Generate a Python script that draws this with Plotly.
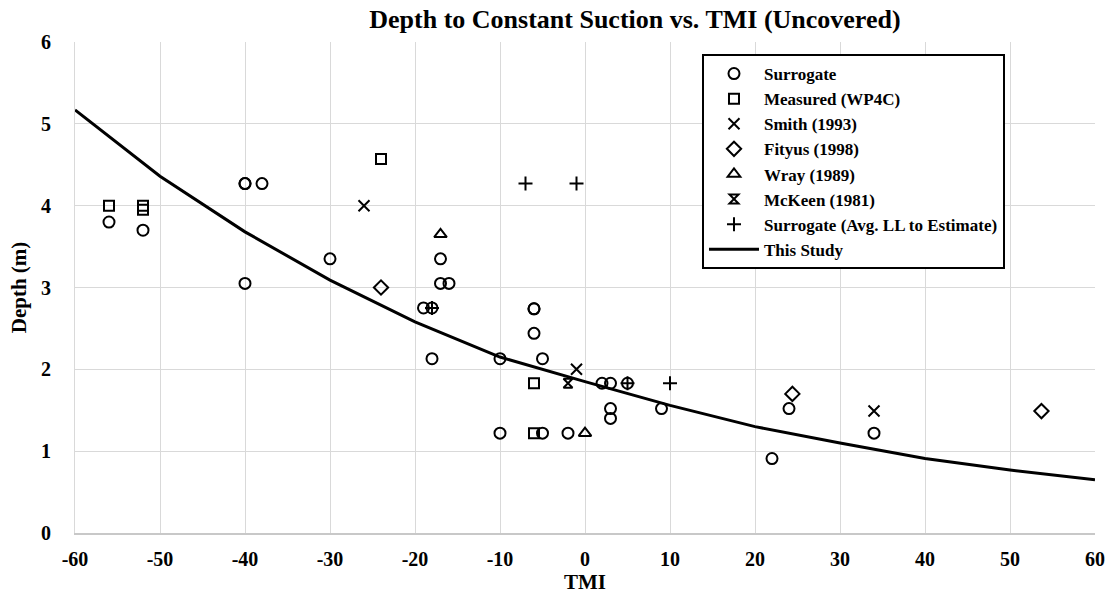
import plotly.graph_objects as go

# ---- data ----
surr_x = [-56, -52, -40, -40, -38, -40, -30, -17, -17, -16, -19, -18, -18, -10, -6, -6, -6, -5,
          2, 3, 5, 3, 3, 9, -10, -5, -2, 22, 24, 34]
surr_y = [3.80, 3.70, 4.27, 4.27, 4.27, 3.05, 3.35, 3.35, 3.05, 3.05, 2.75, 2.75, 2.13, 2.13, 2.74, 2.74, 2.44, 2.13,
          1.83, 1.83, 1.83, 1.52, 1.40, 1.52, 1.22, 1.22, 1.22, 0.91, 1.52, 1.22]

meas_x = [-56, -52, -52, -24, -24, -6, -6]
meas_y = [4.00, 4.00, 3.95, 4.57, 4.57, 1.83, 1.22]

smith_x = [-26, -1, 34]
smith_y = [4.00, 2.00, 1.49]

fityus_x = [-24, 24.4, 53.7]
fityus_y = [3.00, 1.70, 1.49]

wray_x = [-17, 0]
wray_y = [3.65, 1.22]

mckeen_x = [-2]
mckeen_y = [1.83]

avgll_x = [-7, -1, -18, 5, 10]
avgll_y = [4.27, 4.27, 2.75, 1.83, 1.83]

study_x = [-60, -50, -40, -30, -20, -10, 0, 10, 20, 30, 40, 50, 60]
study_y = [5.17, 4.36, 3.68, 3.09, 2.58, 2.15, 1.85, 1.56, 1.30, 1.10, 0.91, 0.77, 0.65]

x_ticks = [-60, -50, -40, -30, -20, -10, 0, 10, 20, 30, 40, 50, 60]
y_ticks = [0, 1, 2, 3, 4, 5, 6]

FONT = "Liberation Serif"

def mk(name, xs, ys, symbol, size=10):
    return go.Scatter(
        x=xs, y=ys, mode="markers", name=name,
        marker=dict(symbol=symbol, size=size, color="black",
                    line=dict(color="black", width=2)),
    )

fig = go.Figure()
fig.add_trace(mk("Surrogate", surr_x, surr_y, "circle-open", 11))
fig.add_trace(mk("Measured (WP4C)", meas_x, meas_y, "square-open", 10))
fig.add_trace(mk("Smith (1993)", smith_x, smith_y, "x-thin-open", 11))
fig.add_trace(mk("Fityus (1998)", fityus_x, fityus_y, "diamond-open", 11))
fig.add_trace(mk("Wray (1989)", wray_x, wray_y, "triangle-up-open", 11))
fig.add_trace(mk("McKeen (1981)", mckeen_x, mckeen_y, "hourglass-open", 9))
fig.add_trace(mk("Surrogate (Avg. LL to Estimate)", avgll_x, avgll_y, "cross-thin-open", 10))
fig.add_trace(go.Scatter(x=study_x, y=study_y, mode="lines", name="This Study",
                         line=dict(color="black", width=3)))

fig.update_layout(
    width=1112, height=598, autosize=False,
    margin=dict(l=75, r=17, t=42, b=65),
    paper_bgcolor="white", plot_bgcolor="white",
    font=dict(family=FONT, size=20, color="black", weight="bold"),
    title=dict(text="Depth to Constant Suction vs. TMI (Uncovered)",
               font=dict(family=FONT, size=26, color="black", weight="bold"),
               x=0.571, xref="container", xanchor="center",
               y=0.968, yref="container", yanchor="middle"),
    legend=dict(x=0.6147, y=0.9756, xanchor="left", yanchor="top",
                bgcolor="white", bordercolor="black", borderwidth=2,
                font=dict(family=FONT, size=17, color="black", weight="bold"),
                tracegroupgap=0, itemwidth=50),
    showlegend=True,
)
fig.update_xaxes(
    range=[-60, 60], tickvals=x_ticks, ticktext=[str(v) for v in x_ticks],
    showgrid=True, gridcolor="#d9d9d9", gridwidth=1,
    showline=True, linecolor="#c8c8c8", linewidth=1.5,
    zeroline=False, ticks="", ticklabelstandoff=7, automargin=False,
    tickfont=dict(family=FONT, size=20, color="black", weight="bold"),
    title=dict(text="TMI", standoff=0,
               font=dict(family=FONT, size=21, color="black", weight="bold")),
)
fig.update_yaxes(
    range=[0, 6], tickvals=y_ticks, ticktext=[str(v) for v in y_ticks],
    showgrid=True, gridcolor="#d9d9d9", gridwidth=1,
    showline=True, linecolor="#d9d9d9", linewidth=1,
    zeroline=False, ticks="", ticklabelstandoff=19, automargin=False,
    tickfont=dict(family=FONT, size=20, color="black", weight="bold"),
    title=dict(text="Depth (m)", standoff=8,
               font=dict(family=FONT, size=21, color="black", weight="bold")),
)

fig.write_html("out.html")
